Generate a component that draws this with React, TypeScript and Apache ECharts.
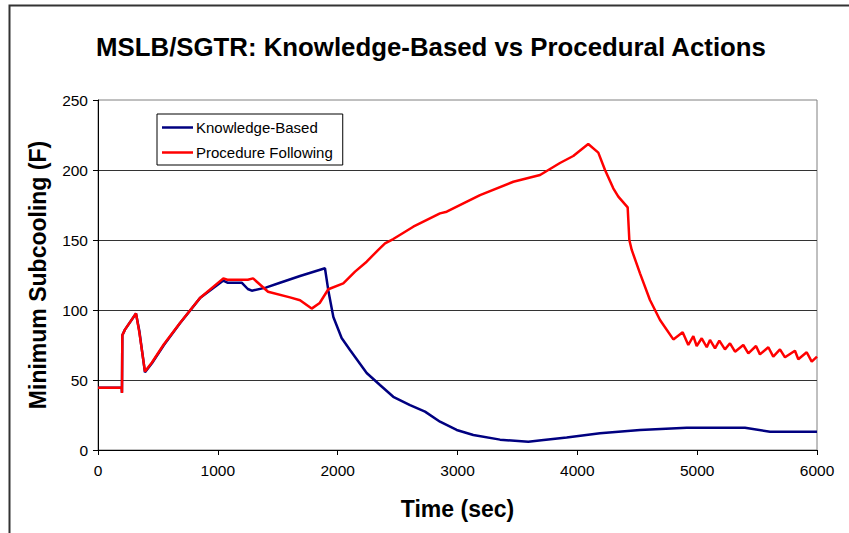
import React, { useEffect, useRef } from "react";
import * as echarts from "echarts";

const titleText = "MSLB/SGTR: Knowledge-Based vs Procedural Actions";
const xAxisTitle = "Time (sec)";
const yAxisTitle = "Minimum Subcooling (F)";
const seriesNames = ["Knowledge-Based", "Procedure Following"];

const kbTime = [0, 198, 200, 203, 225, 317, 345, 392, 450, 550, 684, 851, 1046, 1080, 1199, 1250, 1283, 1400, 1519, 1686, 1894, 1922, 1964, 2033, 2103, 2242, 2353, 2464, 2604, 2729, 2854, 2993, 3132, 3355, 3591, 3700, 3911, 4189, 4523, 4913, 5399, 5608, 6000];
const kbValue = [44.5, 44.5, 41, 82, 86, 97.5, 85, 55.5, 62, 75, 90.5, 108.5, 121, 119.5, 119.5, 115, 113.8, 116, 119.5, 124.3, 129.8, 114, 95, 80, 71.4, 55, 46.4, 38, 32, 27.4, 20.2, 14.3, 10.7, 7.4, 5.9, 7, 9, 11.9, 14.3, 15.9, 15.9, 13.1, 13];

const pfTime = [0, 198, 200, 203, 225, 317, 345, 392, 450, 550, 684, 851, 1046, 1080, 1250, 1294, 1419, 1602, 1686, 1783, 1850, 1922, 2047, 2145, 2242, 2339, 2395, 2464, 2631, 2854, 2910, 3188, 3466, 3689, 3855, 3966, 4091, 4175, 4231, 4300, 4342, 4420, 4434, 4454, 4523, 4606, 4690, 4801, 4879, 4926, 4968, 4996, 5038, 5080, 5107, 5149, 5185, 5232, 5274, 5316, 5385, 5427, 5491, 5524, 5594, 5635, 5691, 5733, 5816, 5844, 5914, 5956, 6000];
const pfValue = [44.5, 44.5, 40.7, 82, 86, 97.6, 84, 56, 62.5, 75.5, 90.7, 108.6, 122.6, 121.6, 121.6, 122.6, 113, 109, 107, 101, 105, 114.8, 119, 127.4, 134.5, 143, 147.6, 150.7, 159.5, 169, 170.2, 182.1, 191.6, 196.4, 205, 210, 218.6, 212.4, 200, 186.9, 181, 173.3, 150, 142.9, 126.2, 107.1, 92.9, 79, 84.1, 75, 81.4, 74.3, 79.8, 73.4, 78.6, 72.6, 78.1, 71.9, 76.2, 70.2, 75, 69, 74.3, 68.3, 73.4, 66.7, 71.9, 66.2, 70.9, 64.8, 69.8, 63.1, 66.7];

const FONT = "Liberation Sans, Arial, sans-serif";

export default function App() {
  const ref = useRef<HTMLDivElement>(null);
  useEffect(() => {
    if (!ref.current) return;
    const chart = echarts.init(ref.current, null, { renderer: "svg" });
    const kbData = kbTime.map((t, i) => [t, kbValue[i]]);
    const pfData = pfTime.map((t, i) => [t, pfValue[i]]);
    chart.setOption({
      animation: false,
      backgroundColor: "#ffffff",
      textStyle: { fontFamily: FONT },
      title: {
        text: titleText,
        left: 426,
        textAlign: "center",
        top: 29,
        textStyle: { fontFamily: FONT, fontWeight: "bold", fontSize: 25.8, color: "#000" },
      },
      grid: {
        left: 98,
        right: 32,
        top: 100,
        bottom: 83,
        show: true,
        borderColor: "#808080",
        borderWidth: 1,
        backgroundColor: "transparent",
      },
      legend: {
        orient: "vertical",
        left: 157,
        top: 114,
        padding: [6, 10, 5, 5],
        itemGap: 10,
        itemWidth: 31,
        itemHeight: 2.5,
        icon: "rect",
        backgroundColor: "#fff",
        borderColor: "#000",
        borderWidth: 1,
        data: seriesNames,
        textStyle: { fontFamily: FONT, fontSize: 15, color: "#000", padding: [0, 0, 0, -2] },
      },
      xAxis: {
        type: "value",
        min: 0,
        max: 6000,
        interval: 1000,
        name: xAxisTitle,
        nameLocation: "middle",
        nameGap: 47,
        nameTextStyle: { fontFamily: FONT, fontWeight: "bold", fontSize: 23, color: "#000" },
        axisLine: { show: true, lineStyle: { color: "#000", width: 1 } },
        axisTick: { show: true, inside: false, length: 5, lineStyle: { color: "#000" } },
        axisLabel: {
          fontFamily: FONT,
          fontSize: 15.5,
          color: "#000",
          margin: 12,
          formatter: (v: number) => String(v),
        },
        splitLine: { show: false },
      },
      yAxis: {
        type: "value",
        min: 0,
        max: 250,
        interval: 50,
        name: yAxisTitle,
        nameLocation: "middle",
        nameGap: 49,
        nameTextStyle: { fontFamily: FONT, fontWeight: "bold", fontSize: 23, color: "#000" },
        axisLine: { show: true, lineStyle: { color: "#000", width: 1 } },
        axisTick: { show: true, inside: false, length: 5, lineStyle: { color: "#000" } },
        axisLabel: {
          fontFamily: FONT,
          fontSize: 15.5,
          color: "#000",
          margin: 10,
          formatter: (v: number) => String(v),
        },
        splitLine: { show: true, showMaxLine: false, lineStyle: { color: "#333", width: 1 } },
      },
      series: [
        {
          name: seriesNames[0],
          type: "line",
          data: kbData,
          symbol: "none",
          lineStyle: { color: "#000080", width: 2.5 },
          itemStyle: { color: "#000080" },
        },
        {
          name: seriesNames[1],
          type: "line",
          data: pfData,
          symbol: "none",
          lineStyle: { color: "#ff0000", width: 2.5 },
          itemStyle: { color: "#ff0000" },
        },
      ],
      graphic: [
        {
          type: "rect",
          left: 7,
          top: 3,
          shape: { x: 0, y: 0, width: 900, height: 600 },
          style: { fill: "none", stroke: "#333", lineWidth: 2 },
          silent: true,
        },
      ],
    });
    return () => chart.dispose();
  }, []);
  return (
    <div
      ref={ref}
      style={{ position: "fixed", left: 0, top: 0, width: 849, height: 533, overflow: "hidden" }}
    />
  );
}
